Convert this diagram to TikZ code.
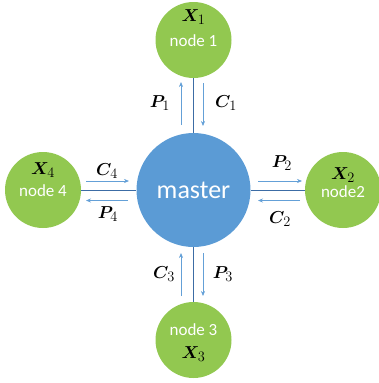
\documentclass[tikz,border=0pt]{standalone}
\usepackage{fontspec}
\usepackage{amsmath,bm}
\newfontfamily\carlitofont{Carlito}
\usetikzlibrary{arrows.meta}
\definecolor{ngreen}{RGB}{146,200,80}
\definecolor{mblue}{RGB}{91,155,213}
\definecolor{dline}{RGB}{60,108,165}
\definecolor{larrow}{RGB}{100,160,215}
\begin{document}
\begin{tikzpicture}[x=1pt,y=-1pt,
  worker/.style={circle,fill=ngreen,minimum size=76pt,inner sep=0pt},
  mastern/.style={circle,fill=mblue,minimum size=114pt,inner sep=0pt,text=white,font=\carlitofont\fontsize{26}{28}\selectfont},
  ntext/.style={text=white,font=\carlitofont\fontsize{17}{19}\selectfont,inner sep=0pt},
  xlab/.style={inner sep=0pt,font=\fontsize{19}{22}\selectfont},
  alab/.style={inner sep=0pt,font=\fontsize{19}{22}\selectfont},
  link/.style={dline,line width=0.8pt},
  flow/.style={larrow,line width=0.6pt,-{Stealth[length=5pt,width=4pt]}}]
\useasboundingbox (0,0) rectangle (378,383);
\node[mastern] (m) at (193.5,190) {master};
\node[worker] (n1) at (193.5,40) {};
\node[worker] (n4) at (43,190) {};
\node[worker] (n2) at (343,190) {};
\node[worker] (n3) at (193.5,340) {};
% texts
\node[xlab] (x1) at (193.5,17) {$\bm{X}_1$};
\node[ntext] (t1) at (193.5,41) {node 1};
\node[xlab] (x4) at (43,170) {$\bm{X}_4$};
\node[ntext] (t4) at (43,191) {node 4};
\node[xlab] (x2) at (343,175) {$\bm{X}_2$};
\node[ntext] (t2) at (343,192) {node2};
\node[ntext] (t3) at (193.5,330) {node 3};
\node[xlab] (x3) at (193.5,354) {$\bm{X}_3$};
% links
\draw[link] (n1) -- (m);
\draw[link] (n4) -- (m);
\draw[link] (n2) -- (m);
\draw[link] (n3) -- (m);
% arrows top
\coordinate (a1s) at (181,125); \coordinate (a1e) at (181,82);
\coordinate (b1s) at (203,83); \coordinate (b1e) at (203,126);
\draw[flow] (a1s) -- (a1e);
\draw[flow] (b1s) -- (b1e);
\node[alab] (p1) at (160,103) {$\bm{P}_1$};
\node[alab] (c1) at (226,103) {$\bm{C}_1$};
% left
\coordinate (a4s) at (86,181); \coordinate (a4e) at (129,181);
\coordinate (b4s) at (128,200.5); \coordinate (b4e) at (86,200.5);
\draw[flow] (a4s) -- (a4e);
\draw[flow] (b4s) -- (b4e);
\node[alab] (c4) at (107,171) {$\bm{C}_4$};
\node[alab] (p4) at (108,214) {$\bm{P}_4$};
% right
\coordinate (a2s) at (258,181); \coordinate (a2e) at (302,181);
\coordinate (b2s) at (300,200.5); \coordinate (b2e) at (258,200.5);
\draw[flow] (a2s) -- (a2e);
\draw[flow] (b2s) -- (b2e);
\node[alab] (p2) at (282,163) {$\bm{P}_2$};
\node[alab] (c2) at (280,219) {$\bm{C}_2$};
% bottom
\coordinate (a3s) at (181,296); \coordinate (a3e) at (181,253);
\coordinate (b3s) at (203,253); \coordinate (b3e) at (203,296);
\draw[flow] (a3s) -- (a3e);
\draw[flow] (b3s) -- (b3e);
\node[alab] (c3) at (164,274) {$\bm{C}_3$};
\node[alab] (p3) at (223,274) {$\bm{P}_3$};
\end{tikzpicture}
\end{document}
